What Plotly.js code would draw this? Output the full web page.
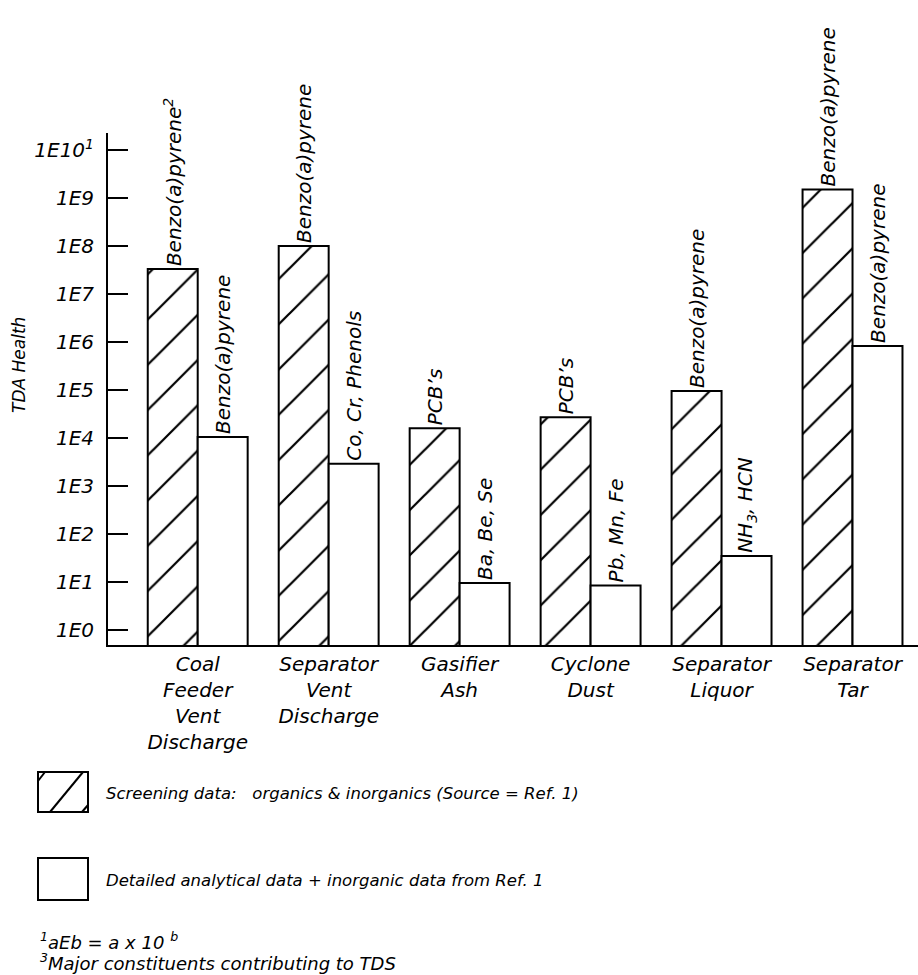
<!DOCTYPE html>
<html><head><meta charset="utf-8">
<script src="https://cdn.plot.ly/plotly-3.0.1.min.js"></script>
<style>html,body{margin:0;padding:0;background:#fff}</style>
</head><body><div id="chart" style="width:918px;height:975px"></div>
<script>
// ---- data ----
const categories = [
  "Coal<br>Feeder<br>Vent<br>Discharge",
  "Separator<br>Vent<br>Discharge",
  "Gasifier<br>Ash",
  "Cyclone<br>Dust",
  "Separator<br>Liquor",
  "Separator<br>Tar"
];
const screeningValues = [3.3e7, 1.0e8, 1.6e4, 2.7e4, 9.5e4, 1.5e9];
const detailedValues  = [1.05e4, 2.9e3, 9.5, 8.5, 3.5e1, 8.3e5];
const screeningLabels = ["Benzo(a)pyrene<sup>2</sup>", "Benzo(a)pyrene", "PCB\u2019s", "PCB\u2019s", "Benzo(a)pyrene", "Benzo(a)pyrene"];
const detailedLabels  = ["Benzo(a)pyrene", "Co, Cr, Phenols", "Ba, Be, Se", "Pb, Mn, Fe", "NH<sub>3</sub>, HCN", "Benzo(a)pyrene"];
const yTickValues = [1, 1e1, 1e2, 1e3, 1e4, 1e5, 1e6, 1e7, 1e8, 1e9, 1e10];
const yTickLabels = ["1E0","1E1","1E2","1E3","1E4","1E5","1E6","1E7","1E8","1E9","1E10<sup>1</sup>"];
const seriesNames = ["Screening data:\u00a0\u00a0 organics & inorganics (Source = Ref. 1)", "Detailed analytical data + inorganic data from Ref. 1"];
const yTitle = "TDA Health";
const footnotes = ["<sup>1</sup>aEb = a x 10 <sup>b</sup>", "<sup>3</sup>Major constituents contributing to TDS"];

// ---- layout helpers ----
const W = 918, H = 975, ML = 108, MR = 0, MT = 133, MB = 330;
const PW = W - ML - MR, PH = H - MT - MB;
const px = x => (x - ML) / PW;
const py = y => (H - MB - y) / PH;
const FONT = "DejaVu Sans";
const italic = (size) => ({family: FONT, size: size, color: "#000", style: "italic"});

const traces = [
  {
    type: "bar", x: categories, y: screeningValues, name: seriesNames[0],
    text: screeningLabels, textposition: "outside", textangle: -90, constraintext: "none",
    textfont: italic(20), outsidetextfont: italic(20), cliponaxis: false, hoverinfo: "skip",
    marker: {color: "#fff", line: {color: "#000", width: 2},
      pattern: {shape: "/", size: 32, solidity: 0.07, fgcolor: "#000", bgcolor: "#fff", fillmode: "replace"}}
  },
  {
    type: "bar", x: categories, y: detailedValues, name: seriesNames[1],
    text: detailedLabels, textposition: "outside", textangle: -90, constraintext: "none",
    textfont: italic(20), outsidetextfont: italic(20), cliponaxis: false, hoverinfo: "skip",
    marker: {color: "#fff", line: {color: "#000", width: 2}}
  }
];

// legend swatches (decoration)
const b1 = {x0: 38, x1: 88, y0: 772, y1: 812};
const b2 = {x0: 38, x1: 88, y0: 858, y1: 900};
const line = {color: "#000", width: 2};
const shapes = [
  {type: "rect", xref: "paper", yref: "paper", x0: px(b1.x0), x1: px(b1.x1), y0: py(b1.y1), y1: py(b1.y0), line: line, fillcolor: "#fff"},
  {type: "line", xref: "paper", yref: "paper", x0: px(b1.x0 + 12), y0: py(b1.y1), x1: px(b1.x0 + 45), y1: py(b1.y0), line: line},
  {type: "line", xref: "paper", yref: "paper", x0: px(b1.x0), y0: py(b1.y0 + 9), x1: px(b1.x0 + 7), y1: py(b1.y0), line: line},
  {type: "line", xref: "paper", yref: "paper", x0: px(b1.x1 - 6), y0: py(b1.y1), x1: px(b1.x1), y1: py(b1.y1 - 7), line: line},
  {type: "rect", xref: "paper", yref: "paper", x0: px(b2.x0), x1: px(b2.x1), y0: py(b2.y1), y1: py(b2.y0), line: line, fillcolor: "#fff"}
];

const annotations = [
  {xref: "paper", yref: "paper", x: px(19), y: py(365), text: yTitle, textangle: -90, showarrow: false,
   xanchor: "center", yanchor: "middle", font: italic(17)},
  {xref: "paper", yref: "paper", x: px(104), y: py(793), text: seriesNames[0], showarrow: false,
   xanchor: "left", yanchor: "middle", font: italic(16.5)},
  {xref: "paper", yref: "paper", x: px(104), y: py(880), text: seriesNames[1], showarrow: false,
   xanchor: "left", yanchor: "middle", font: italic(16.5)},
  {xref: "paper", yref: "paper", x: px(38), y: py(941), text: footnotes[0], showarrow: false,
   xanchor: "left", yanchor: "middle", font: italic(18)},
  {xref: "paper", yref: "paper", x: px(38), y: py(962), text: footnotes[1], showarrow: false,
   xanchor: "left", yanchor: "middle", font: italic(18)}
];

const layout = {
  width: W, height: H, margin: {l: ML, r: MR, t: MT, b: MB, pad: 0},
  paper_bgcolor: "#fff", plot_bgcolor: "#fff",
  showlegend: false, barmode: "group", bargap: 0.237, bargroupgap: 0,
  xaxis: {type: "category", range: [-0.685, 5.5], showline: true, linecolor: "#000", linewidth: 2,
    ticks: "", showgrid: false, zeroline: false, tickfont: italic(20), tickangle: 0, automargin: false},
  yaxis: {type: "log", range: [-0.3125, 10.354], showline: true, linecolor: "#000", linewidth: 2,
    tickvals: yTickValues, ticktext: yTickLabels, ticks: "inside", ticklen: 20, tickwidth: 2, tickcolor: "#000",
    showgrid: false, zeroline: false, tickfont: italic(20), ticklabelstandoff: 8, automargin: false},
  shapes: shapes, annotations: annotations
};

Plotly.newPlot("chart", traces, layout, {staticPlot: true, displayModeBar: false});
</script>
</body></html>
